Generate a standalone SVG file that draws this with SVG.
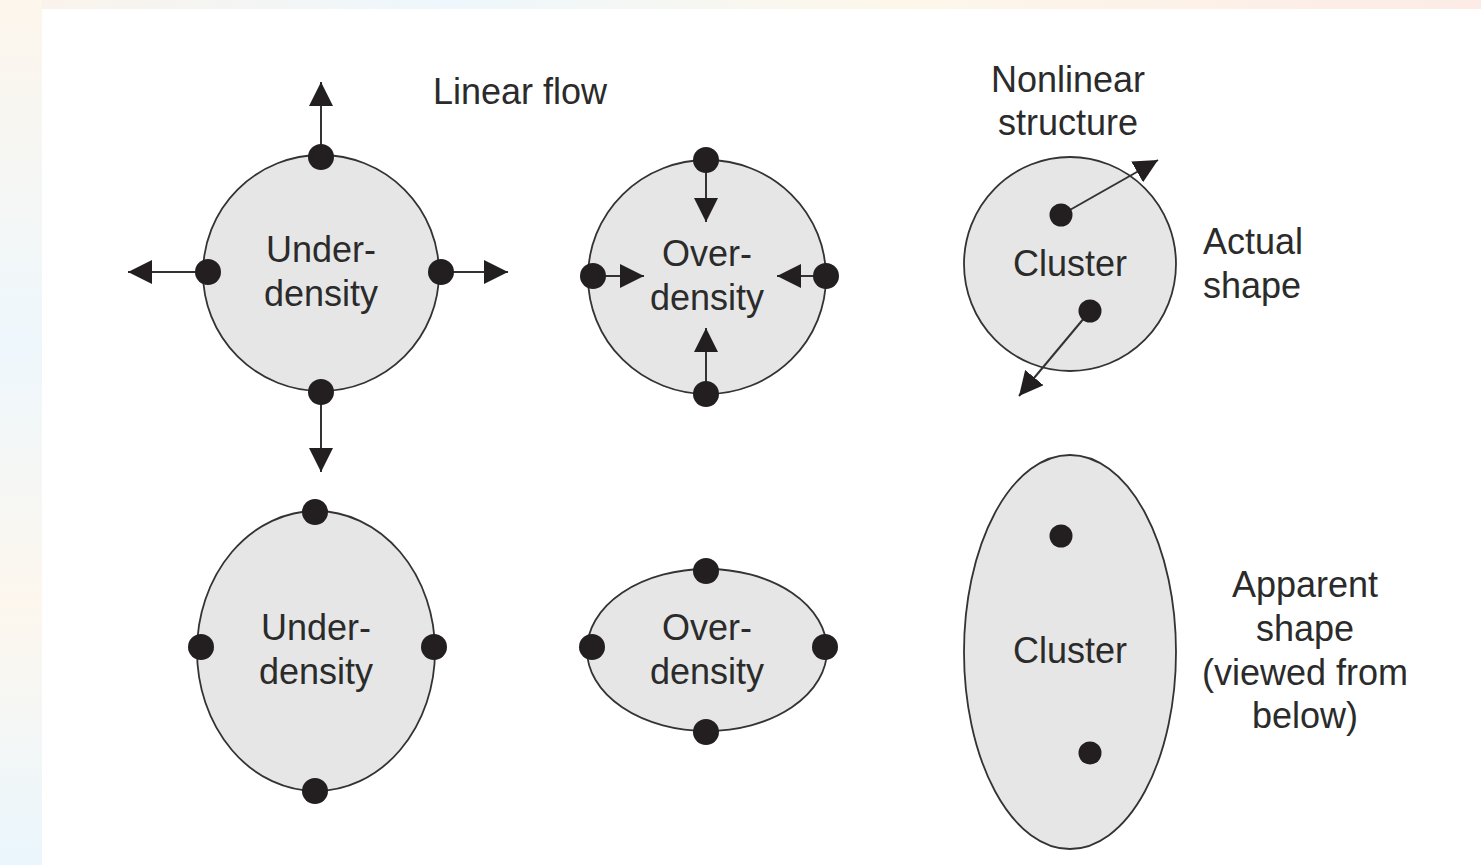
<svg xmlns="http://www.w3.org/2000/svg" width="1481" height="865" viewBox="0 0 1481 865">
<defs>
<linearGradient id="bgL" x1="0" y1="0" x2="0" y2="1">
<stop offset="0" stop-color="#fdf6ec"/>
<stop offset="0.4" stop-color="#eef7fc"/>
<stop offset="0.7" stop-color="#fdf7ee"/>
<stop offset="1" stop-color="#eaf6fd"/>
</linearGradient>
<linearGradient id="bgT" x1="0" y1="0" x2="1" y2="0">
<stop offset="0" stop-color="#fbf3ea"/>
<stop offset="0.3" stop-color="#eef7fc"/>
<stop offset="0.6" stop-color="#fdf7ea"/>
<stop offset="1" stop-color="#fcebe6"/>
</linearGradient>
<marker id="ah" viewBox="0 0 24 24" refX="24" refY="12" markerWidth="24" markerHeight="24" markerUnits="userSpaceOnUse" orient="auto">
<path d="M0,0 L24,12 L0,24 Z" fill="#231f20"/>
</marker>
</defs>
<style>
.shape{fill:#e6e6e6;stroke:#333;stroke-width:1.8}
.dot{fill:#231f20}
.arr{stroke:#333;stroke-width:2;fill:none;marker-end:url(#ah)}
text{font-family:"Liberation Sans",Arial,sans-serif;font-size:36px;fill:#2b2b2b}
.c{text-anchor:middle}
</style>
<rect width="1481" height="865" fill="#ffffff"/>
<rect x="0" y="0" width="1481" height="9" fill="url(#bgT)"/>
<rect x="0" y="0" width="42" height="865" fill="url(#bgL)"/>

<g id="under1">
<circle class="shape" cx="321" cy="273" r="118"/>
<text class="c" x="321" y="262">Under-</text>
<text class="c" x="321" y="306">density</text>
</g>
<g id="over1">
<ellipse class="shape" cx="707" cy="277" rx="119" ry="117"/>
<text class="c" x="707" y="266">Over-</text>
<text class="c" x="707" y="310">density</text>
</g>
<g id="cluster1">
<ellipse class="shape" cx="1070" cy="264" rx="106" ry="107"/>
<text class="c" x="1070" y="276">Cluster</text>
</g>
<g id="under2">
<ellipse class="shape" cx="316" cy="651" rx="119" ry="140"/>
<text class="c" x="316" y="640">Under-</text>
<text class="c" x="316" y="684">density</text>
</g>
<g id="over2">
<ellipse class="shape" cx="707" cy="650" rx="120" ry="81"/>
<text class="c" x="707" y="640">Over-</text>
<text class="c" x="707" y="684">density</text>
</g>
<g id="cluster2">
<ellipse class="shape" cx="1070" cy="652" rx="106" ry="197"/>
<text class="c" x="1070" y="663">Cluster</text>
</g>

<g id="labels">
<text x="433" y="104">Linear flow</text>
<text class="c" x="1068" y="92">Nonlinear</text>
<text class="c" x="1068" y="135">structure</text>
<text x="1203" y="254">Actual</text>
<text x="1203" y="298">shape</text>
<text class="c" x="1305" y="597">Apparent</text>
<text class="c" x="1305" y="641">shape</text>
<text class="c" x="1305" y="685">(viewed from</text>
<text class="c" x="1305" y="728">below)</text>
</g>

<g id="connectors">
<line class="arr" x1="321" y1="157" x2="321" y2="82"/>
<line class="arr" x1="321" y1="392" x2="321" y2="472"/>
<line class="arr" x1="208" y1="272" x2="128" y2="272"/>
<line class="arr" x1="441" y1="272" x2="508" y2="272"/>
<line class="arr" x1="706" y1="160" x2="706" y2="222"/>
<line class="arr" x1="706" y1="394" x2="706" y2="328"/>
<line class="arr" x1="593" y1="276" x2="644" y2="276"/>
<line class="arr" x1="826" y1="276" x2="777" y2="276"/>
<line class="arr" x1="1061" y1="215" x2="1158" y2="160"/>
<line class="arr" x1="1090" y1="311" x2="1019" y2="396"/>
</g>

<g id="dots">
<circle class="dot" cx="321" cy="157" r="13"/>
<circle class="dot" cx="321" cy="392" r="13"/>
<circle class="dot" cx="208" cy="272" r="13"/>
<circle class="dot" cx="441" cy="272" r="13"/>
<circle class="dot" cx="706" cy="160" r="13"/>
<circle class="dot" cx="706" cy="394" r="13"/>
<circle class="dot" cx="593" cy="276" r="13"/>
<circle class="dot" cx="826" cy="276" r="13"/>
<circle class="dot" cx="1061" cy="215" r="11.5"/>
<circle class="dot" cx="1090" cy="311" r="11.5"/>
<circle class="dot" cx="315" cy="512" r="13"/>
<circle class="dot" cx="315" cy="791" r="13"/>
<circle class="dot" cx="201" cy="647" r="13"/>
<circle class="dot" cx="434" cy="647" r="13"/>
<circle class="dot" cx="706" cy="571" r="13"/>
<circle class="dot" cx="706" cy="732" r="13"/>
<circle class="dot" cx="592" cy="647" r="13"/>
<circle class="dot" cx="825" cy="647" r="13"/>
<circle class="dot" cx="1061" cy="536" r="11.5"/>
<circle class="dot" cx="1090" cy="753" r="11.5"/>
</g>
</svg>
